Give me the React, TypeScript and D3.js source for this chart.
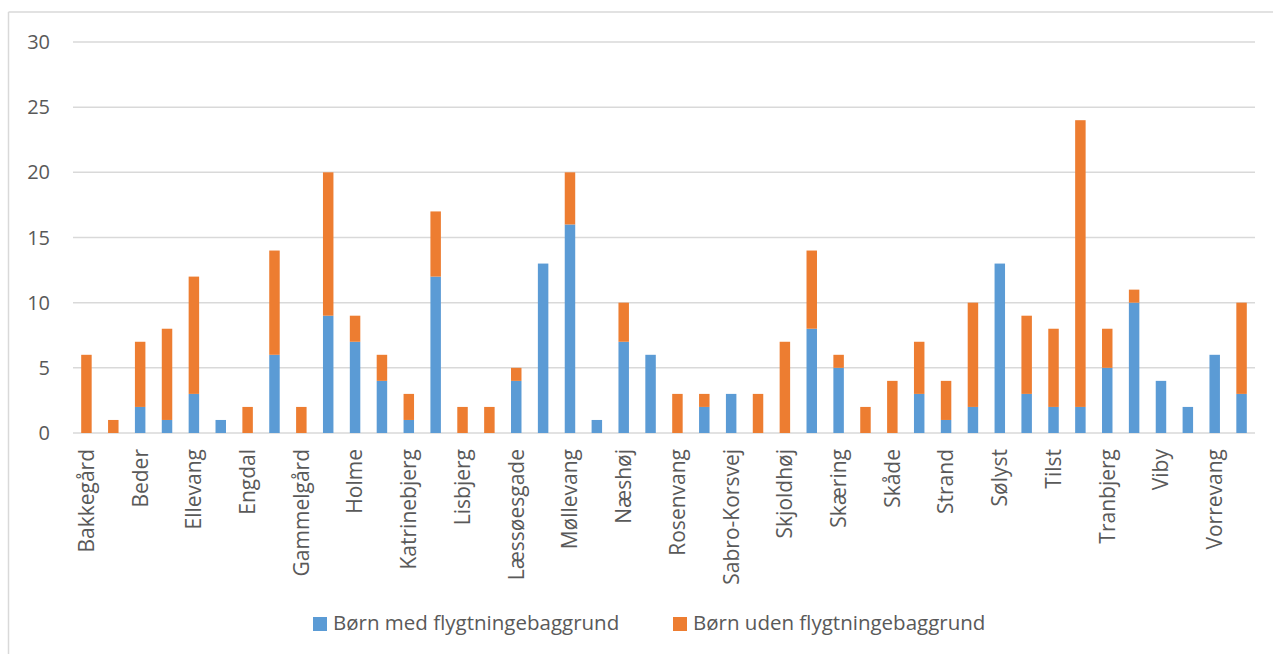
import React from "react";
import * as d3 from "d3";

const districts: string[] = [
  "Bakkegård", "Bavnehøj", "Beder", "Bispehaven", "Ellevang", "Elsted",
  "Engdal", "Frederiksbjerg", "Gammelgård", "Hasle", "Holme", "Hørning",
  "Katrinebjerg", "Kragelund", "Lisbjerg", "Lystrup", "Læssøesgade", "Malling",
  "Møllevang", "Mårslet", "Næshøj", "Ny Munkegård", "Rosenvang", "Rundhøj",
  "Sabro-Korsvej", "Samsøgade", "Skjoldhøj", "Skovvangen", "Skæring", "Skødstrup",
  "Skåde", "Solbakken", "Strand", "Sødalen", "Sølyst", "Tangkrogen",
  "Tilst", "Tovshøj", "Tranbjerg", "Vestergården", "Viby", "Vorrebakken",
  "Vorrevang", "Åby",
];

const medFlygtning: number[] = [
  0, 0, 2, 1, 3, 1, 0, 6, 0, 9, 7, 4,
  1, 12, 0, 0, 4, 13, 16, 1, 7, 6, 0, 2,
  3, 0, 0, 8, 5, 0, 0, 3, 1, 2, 13, 3,
  2, 2, 5, 10, 4, 2, 6, 3,
];

const udenFlygtning: number[] = [
  6, 1, 5, 7, 9, 0, 2, 8, 2, 11, 2, 2,
  2, 5, 2, 2, 1, 0, 4, 0, 3, 0, 3, 1,
  0, 3, 7, 6, 1, 2, 4, 4, 3, 8, 0, 6,
  6, 22, 3, 1, 0, 0, 0, 7,
];

const seriesNames: string[] = ["Børn med flygtningebaggrund", "Børn uden flygtningebaggrund"];
const seriesColors: string[] = ["#5B9BD5", "#ED7D31"];
const yTicks: number[] = [0, 5, 10, 15, 20, 25, 30];

const W = 1273;
const H = 654;
const FONT = "'Open Sans', sans-serif";
const TEXT = "#595959";

export default function App() {
  const left = 73;
  const right = 1255;
  const top = 42;
  const bottom = 433;

  const x = d3.scaleBand<string>().domain(districts).range([left, right]).paddingInner(0.61).paddingOuter(0.305);
  const y = d3.scaleLinear().domain([0, 30]).range([bottom, top]);

  const rows = districts.map((d, i) => ({ name: d, med: medFlygtning[i], uden: udenFlygtning[i] }));
  const stack = d3.stack<any>().keys(["med", "uden"]);
  const layers = stack(rows);

  return (
    <svg width={W} height={H} style={{ position: "absolute", left: 0, top: 0, background: "#fff" }} fontFamily={FONT}>
      <rect x={0} y={0} width={W} height={H} fill="#fff" />
      <line x1={8.5} y1={12} x2={8.5} y2={H} stroke="#D9D9D9" strokeWidth={1.5} />
      <line x1={8.5} y1={12} x2={W} y2={12} stroke="#D9D9D9" strokeWidth={1.5} />
      {yTicks.map((t) => (
        <g key={t}>
          <line x1={left} x2={right} y1={y(t)} y2={y(t)} stroke="#D9D9D9" strokeWidth={1.5} />
          <text x={50} y={y(t)} dy="0.35em" textAnchor="end" fontSize={20} fill={TEXT}>
            {t}
          </text>
        </g>
      ))}
      {layers.map((layer, li) => (
        <g key={li} fill={seriesColors[li]}>
          {layer.map((seg, i) =>
            seg[1] - seg[0] > 0 ? (
              <rect
                key={i}
                x={x(districts[i])}
                width={x.bandwidth()}
                y={y(seg[1])}
                height={y(seg[0]) - y(seg[1])}
              />
            ) : null
          )}
        </g>
      ))}
      {districts.map((d, i) =>
        i % 2 === 0 ? (
          <text
            key={d}
            transform={`translate(${(x(d) as number) + x.bandwidth() / 2},449) rotate(-90)`}
            textAnchor="end"
            dy="0.35em"
            fontSize={21}
            fill={TEXT}
          >
            {d}
          </text>
        ) : null
      )}
      {seriesNames.map((s, i) => {
        const lx = i === 0 ? 313 : 673;
        return (
          <g key={s}>
            <rect x={lx} y={617} width={14} height={14} fill={seriesColors[i]} />
            <text x={lx + 20} y={630} fontSize={20.5} fill={TEXT}>
              {s}
            </text>
          </g>
        );
      })}
    </svg>
  );
}
